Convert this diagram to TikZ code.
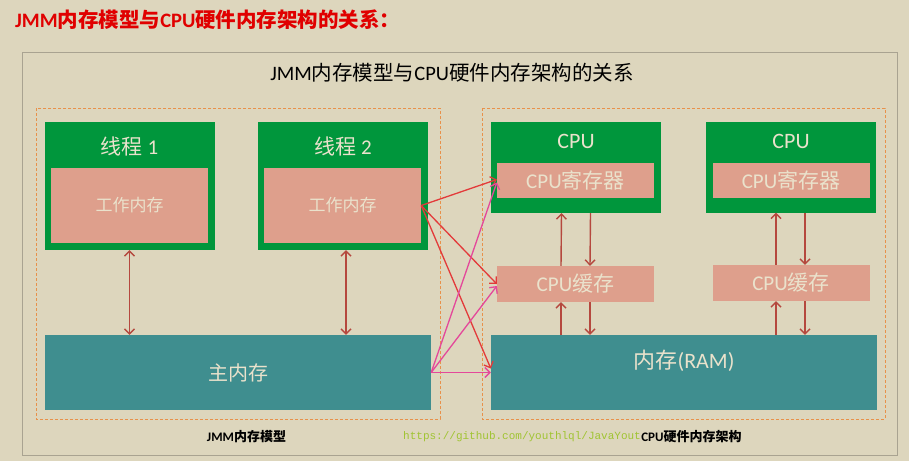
\documentclass[tikz,border=0pt]{standalone}
\usepackage{fontspec}
\setmainfont{Noto Sans CJK SC}
\newfontfamily\calfont{Carlito}
\newfontfamily\urlmono{Liberation Mono}
\usetikzlibrary{arrows.meta}
\definecolor{bgbeige}{RGB}{221,214,189}
\definecolor{boxgreen}{RGB}{0,150,60}
\definecolor{boxpink}{RGB}{222,159,140}
\definecolor{boxteal}{RGB}{63,142,143}
\definecolor{lighttext}{RGB}{234,226,204}
\definecolor{arrowbrown}{RGB}{181,72,62}
\definecolor{linered}{RGB}{227,58,58}
\definecolor{linepink}{RGB}{228,72,154}
\definecolor{dashorange}{RGB}{232,145,74}
\definecolor{framegray}{RGB}{169,163,145}
\definecolor{titlered}{RGB}{224,0,0}
\definecolor{urlgreen}{RGB}{160,196,50}
\tikzset{
  barb/.tip={Straight Barb[length=5pt,width=10pt]},
  outbox/.style={fill=boxgreen, inner sep=0pt, minimum width=170pt},
  membox/.style={fill=boxpink, inner sep=0pt, minimum width=157pt, text=lighttext},
  ramboxstyle/.style={fill=boxteal, inner sep=0pt, minimum width=386pt, minimum height=75pt, text=lighttext},
  headtext/.style={text=lighttext, inner sep=0pt},
  link/.style={draw=arrowbrown, line width=1.4pt},
}
\begin{document}
\begin{tikzpicture}[x=1pt,y=-1pt]
  \fill[bgbeige] (0,0) rectangle (909,461);
  \useasboundingbox (0,0) rectangle (909,461);
  \node[anchor=west, text=titlered, font=\fontsize{20.5}{20.5}\selectfont\bfseries, inner sep=0pt] (title)
    at (15,20) {{\calfont JMM}内存模型与{\calfont CPU}硬件内存架构的关系：};
  \draw[framegray, line width=0.8pt] (22,52) rectangle (897,455);
  \node[font=\fontsize{20.5}{20.5}\selectfont, inner sep=0pt] (subtitle)
    at (452,73) {{\calfont JMM}内存模型与{\calfont CPU}硬件内存架构的关系};
  \draw[dashorange, line width=0.6pt, densely dashed] (36,108) rectangle (440,419);
  \draw[dashorange, line width=0.6pt, densely dashed] (482,108) rectangle (885,419);

  % JMM side
  \node[outbox, minimum height=128pt] (t1) at (129.5,186) {};
  \node[outbox, minimum height=128pt] (t2) at (343,186) {};
  \node[headtext, font=\fontsize{21}{21}\selectfont] (t1name) at (129.5,146) {线程 {\calfont 1}};
  \node[headtext, font=\fontsize{21}{21}\selectfont] (t2name) at (343,146) {线程 {\calfont 2}};
  \node[membox, minimum height=75pt, font=\fontsize{17}{17}\selectfont] (w1) at (129.5,205.5) {工作内存};
  \node[membox, minimum height=75pt, font=\fontsize{17}{17}\selectfont] (w2) at (342.5,205.5) {工作内存};
  \node[ramboxstyle, font=\fontsize{20}{20}\selectfont] (main) at (238,372.5) {主内存};
  \draw[link, barb-barb] (t1.south) -- (t1.south |- main.north);
  \draw[link, barb-barb] ([xshift=3pt]t2.south) -- ([xshift=3pt]t2.south |- main.north);

  % CPU side
  \node[outbox, minimum height=91pt] (cpu1) at (576,167.5) {};
  \node[outbox, minimum height=91pt] (cpu2) at (791,167) {};
  \node[headtext, font=\fontsize{22}{22}\selectfont\calfont] (cpu1name) at (576,141) {CPU};
  \node[headtext, font=\fontsize{22}{22}\selectfont\calfont] (cpu2name) at (791,141) {CPU};
  \node[membox, minimum height=35pt, font=\fontsize{21}{21}\selectfont] (r1) at (575.5,180.5) {{\calfont CPU}寄存器};
  \node[membox, minimum height=35pt, font=\fontsize{21}{21}\selectfont] (r2) at (791,180) {{\calfont CPU}寄存器};
  \node[membox, minimum height=36pt, font=\fontsize{21}{21}\selectfont] (c1) at (575.5,284) {{\calfont CPU}缓存};
  \node[membox, minimum height=36pt, font=\fontsize{21}{21}\selectfont] (c2) at (791,283) {{\calfont CPU}缓存};
  \node[ramboxstyle] (ram) at (684,372.5) {};
  \node[headtext, font=\fontsize{22}{22}\selectfont] (ramname) at (684,361) {内存{\calfont (RAM)}};
  \draw[link, -barb] ([xshift=-14.5pt]c1.north) -- ([xshift=-14.5pt]cpu1.south);
  \draw[link, -barb] ([xshift=14.5pt]cpu1.south) -- ([xshift=14.5pt]c1.north);
  \draw[link, -barb] ([xshift=-15pt]c2.north) -- ([xshift=-15pt]cpu2.south);
  \draw[link, -barb] ([xshift=14pt]cpu2.south) -- ([xshift=14pt]c2.north);
  \draw[link, -barb] ([xshift=-14.5pt]c1.south |- ram.north) -- ([xshift=-14.5pt]c1.south);
  \draw[link, -barb] ([xshift=14.5pt]c1.south) -- ([xshift=14.5pt]c1.south |- ram.north);
  \draw[link, -barb] ([xshift=-15pt]c2.south |- ram.north) -- ([xshift=-15pt]c2.south);
  \draw[link, -barb] ([xshift=14pt]c2.south) -- ([xshift=14pt]c2.south |- ram.north);

  % mapping
  \begin{scope}[line width=1.3pt, -barb]
    \draw[linered] (w2.east) -- ([yshift=1pt]r1.west);
    \draw[linered] (w2.east) -- (c1.west);
    \draw[linered] (w2.east) -- ([yshift=4pt]ram.west);
    \draw[linepink] (main.east) -- ([yshift=-2pt]r1.west);
    \draw[linepink] (main.east) -- ([yshift=-2pt]c1.west);
    \draw[linepink] (main.east) -- (ram.west);
  \end{scope}

  \node[font=\fontsize{13}{13}\selectfont\bfseries, inner sep=0pt] (jmmlabel) at (246.5,437) {{\calfont JMM}内存模型};
  \node[anchor=west, text=urlgreen, font=\fontsize{11}{11}\selectfont\urlmono, inner sep=0pt] (url)
    at (403,437) {https://github.com/youthlql/JavaYouth};
  \node[fill=bgbeige, font=\fontsize{13}{13}\selectfont\bfseries, inner sep=1pt] (cpulabel) at (691.5,437) {{\calfont CPU}硬件内存架构};
\end{tikzpicture}
\end{document}
